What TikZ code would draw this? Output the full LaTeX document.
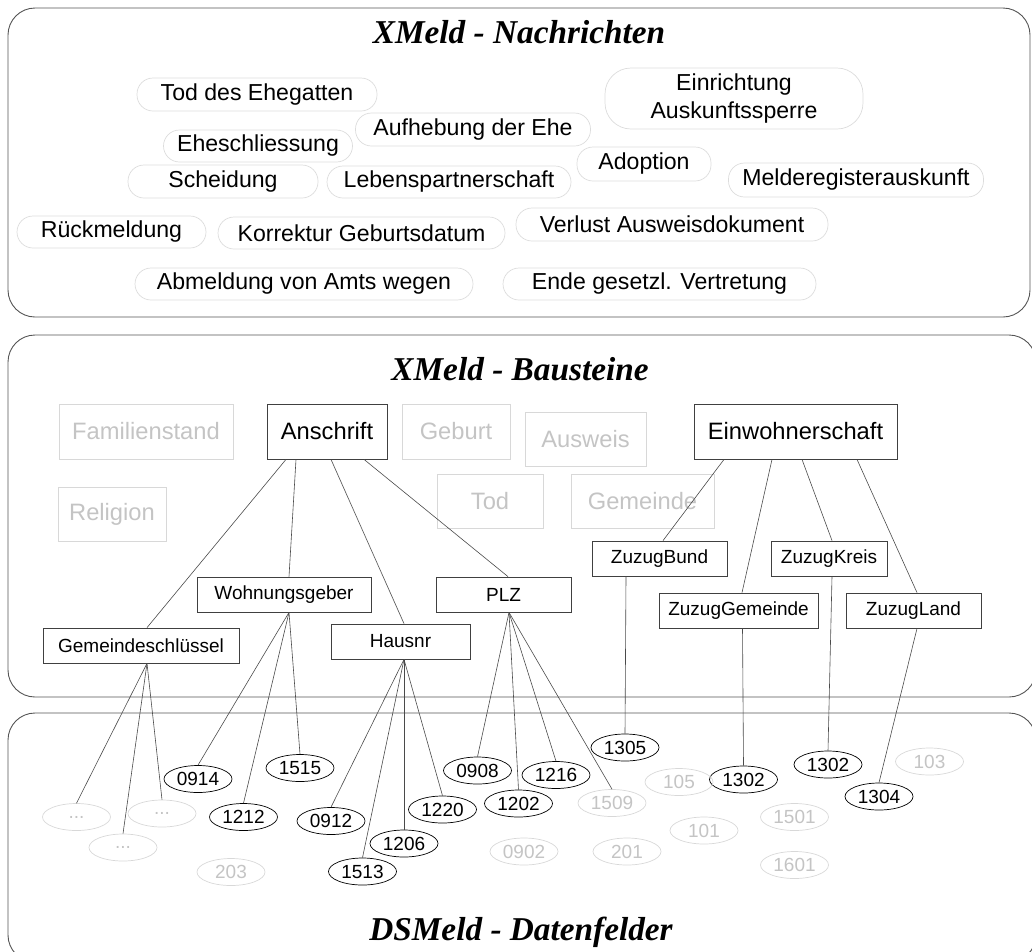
\documentclass[tikz,border=0pt]{standalone}
\usepackage{fontspec}
\setmainfont{Liberation Sans}
\newfontfamily\titlefont{Liberation Serif}
\usetikzlibrary{shapes.geometric}

\definecolor{panelc}{HTML}{555555}
\definecolor{linec}{HTML}{4A4A4A}
\definecolor{pillc}{HTML}{DCDCDC}
\definecolor{grayb}{HTML}{D8D8D8}
\definecolor{grayt}{HTML}{C4C4C4}
\definecolor{boxc}{HTML}{404040}

\newcommand\fontPill{\fontsize{23.1pt}{27.5pt}\selectfont}
\newcommand\fontBig{\fontsize{23.7pt}{28pt}\selectfont}
\newcommand\fontSmall{\fontsize{19pt}{22pt}\selectfont}
\newcommand\fontTitle{\titlefont\bfseries\itshape\fontsize{33.3pt}{40pt}\selectfont}

\tikzset{
 panel/.style={draw=panelc, line width=0.9pt, rounded corners=27pt},
 pill/.style={draw=pillc, line width=0.7pt, rounded corners=16pt, inner sep=0pt, font=\fontPill, align=center},
 bigbox/.style={draw=boxc, line width=0.8pt, inner sep=0pt, font=\fontBig, minimum height=55pt},
 graybox/.style={draw=grayb, line width=0.8pt, inner sep=0pt, font=\fontBig, text=grayt, minimum height=54pt},
 subbox/.style={draw=boxc, line width=0.8pt, inner sep=0pt, font=\fontSmall, minimum height=35pt},
 field/.style={ellipse, draw=black, line width=0.7pt, inner sep=0pt, font=\fontSmall, minimum width=68pt, minimum height=27pt},
 grayfield/.style={field, draw=grayb, text=grayt},
 link/.style={draw=linec, line width=0.6pt},
 ttl/.style={font=\fontTitle, inner sep=0pt, anchor=base}
}

\begin{document}
\begin{tikzpicture}[x=1pt,y=-1pt]
\useasboundingbox (0,0) rectangle (1032,951);

% panels
\draw[panel] (8,8) rectangle (1030,317);
\draw[panel] (8,335) rectangle (1036,697);
\draw[panel] (8,713) rectangle (1036,962);

% titles
\node[ttl] (t1) at (519,43) {XMeld - Nachrichten};
\node[ttl] (t2) at (520,380) {XMeld - Bausteine};
\node[ttl] (t3) at (521,940) {DSMeld - Datenfelder};

% messages
\node[pill, minimum width=240pt, minimum height=33pt] (tod) at (257,94.5) {Tod des Ehegatten};
\node[pill, minimum width=189pt, minimum height=32pt] (ehe) at (258,146) {Eheschliessung};
\node[pill, minimum width=235pt, minimum height=33pt] (aufh) at (473,129.5) {Aufhebung der Ehe};
\node[pill, minimum width=190pt, minimum height=33pt] (scheid) at (223,181.5) {Scheidung};
\node[pill, minimum width=244pt, minimum height=32pt] (leben) at (449,182) {Lebenspartnerschaft};
\node[pill, minimum width=134pt, minimum height=34pt] (adopt) at (644,164) {Adoption};
\node[pill, minimum width=258pt, minimum height=61pt, rounded corners=26pt] (einr) at (734,98.5) {Einrichtung\\Auskunftssperre};
\node[pill, minimum width=255pt, minimum height=34pt] (melde) at (856,180) {Melderegisterauskunft};
\node[pill, minimum width=189pt, minimum height=32pt] (rueck) at (111.5,232) {Rückmeldung};
\node[pill, minimum width=287pt, minimum height=32pt] (korr) at (361.5,233) {Korrektur Geburtsdatum};
\node[pill, minimum width=312pt, minimum height=33pt] (verl) at (672,224.5) {Verlust Ausweisdokument};
\node[pill, minimum width=338pt, minimum height=32pt] (abm) at (304,284) {Abmeldung von Amts wegen};
\node[pill, minimum width=313pt, minimum height=32pt] (ende) at (659.5,284) {Ende gesetzl. Vertretung};

% building blocks
\node[graybox, minimum width=174pt, minimum height=55pt] (fam) at (146,431.5) {Familienstand};
\node[bigbox, minimum width=120pt] (ans) at (327,431.5) {Anschrift};
\node[graybox, minimum width=108pt, minimum height=55pt] (geb) at (456,431.5) {Geburt};
\node[graybox, minimum width=121pt] (ausw) at (585.5,439) {Ausweis};
\node[graybox, minimum width=108pt] (rel) at (112,514) {Religion};
\node[graybox, minimum width=106pt] (todb) at (490,501) {Tod};
\node[graybox, minimum width=143pt] (gem) at (642.5,501) {Gemeinde};
\node[bigbox, minimum width=203pt] (einw) at (795.5,431.5) {Einwohnerschaft};
\node[subbox, minimum width=174pt] (wohn) at (284,594.5) {Wohnungsgeber};
\node[subbox, minimum width=196pt] (gs) at (141,645.5) {Gemeindeschlüssel};
\node[subbox, minimum width=139pt] (haus) at (400.5,641.5) {Hausnr};
\node[subbox, minimum width=135pt] (plz) at (503.5,594.5) {PLZ};
\node[subbox, minimum width=135pt] (zb) at (659.5,558.5) {ZuzugBund};
\node[subbox, minimum width=116pt] (zk) at (829,558.5) {ZuzugKreis};
\node[subbox, minimum width=159pt] (zg) at (738.5,610.5) {ZuzugGemeinde};
\node[subbox, minimum width=135pt] (zl) at (913.5,610.5) {ZuzugLand};

% data fields
\node[field] (f0914) at (198,779) {0914};
\node[field] (f1212) at (243.5,817) {1212};
\node[field] (f1515) at (300,768) {1515};
\node[field] (f0912) at (331,821) {0912};
\node[field] (f1513) at (362.5,871.5) {1513};
\node[field] (f1206) at (404,843.5) {1206};
\node[field] (f1220) at (442.5,809.5) {1220};
\node[field] (f0908) at (477.5,770.5) {0908};
\node[field] (f1202) at (518.5,803.5) {1202};
\node[field] (f1216) at (556,775) {1216};
\node[field] (f1305) at (625,747.5) {1305};
\node[field] (f1302a) at (743.5,779.5) {1302};
\node[field] (f1302b) at (828,764.5) {1302};
\node[field] (f1304) at (879,796.5) {1304};

\node[grayfield] (d1) at (76.5,817) {...};
\node[grayfield] (d2) at (123,847.5) {...};
\node[grayfield] (d3) at (162,813.5) {...};
\node[grayfield] (g203) at (231,872) {203};
\node[grayfield] (g1509) at (612,803) {1509};
\node[grayfield] (g0902) at (524,851.5) {0902};
\node[grayfield] (g201) at (627,851.5) {201};
\node[grayfield] (g105) at (679,782) {105};
\node[grayfield] (g101) at (704,830.5) {101};
\node[grayfield] (g1501) at (794.5,817) {1501};
\node[grayfield] (g1601) at (794.5,865) {1601};
\node[grayfield] (g103) at (929.5,761.5) {103};

% connectors
\draw[link] ([xshift=-41pt]ans.south) -- ([xshift=6pt]gs.north);
\draw[link] ([xshift=-31pt]ans.south) -- ([xshift=5pt]wohn.north);
\draw[link] ([xshift=4pt]ans.south) -- ([xshift=3.5pt]haus.north);
\draw[link] ([xshift=37pt]ans.south) -- ([xshift=4.5pt]plz.north);
\draw[link] ([xshift=-71.5pt]einw.south) -- ([xshift=3.5pt]zb.north);
\draw[link] ([xshift=-23.5pt]einw.south) -- ([xshift=3.5pt]zg.north);
\draw[link] ([xshift=6.5pt]einw.south) -- ([xshift=3pt]zk.north);
\draw[link] ([xshift=61.5pt]einw.south) -- ([xshift=3.5pt]zl.north);

\foreach \t in {d1,d2,d3} \draw[link] ([xshift=6pt]gs.south) -- (\t.north);
\foreach \t in {f0914,f1212,f1515} \draw[link] ([xshift=5pt]wohn.south) -- (\t.north);
\foreach \t in {f0912,f1513,f1206,f1220} \draw[link] ([xshift=3.5pt]haus.south) -- (\t.north);
\foreach \t in {f0908,f1202,f1216,g1509} \draw[link] ([xshift=5.5pt]plz.south) -- (\t.north);
\draw[link] ([xshift=-33.5pt]zb.south) -- (f1305.north);
\draw[link] ([xshift=4pt]zg.south) -- (f1302a.north);
\draw[link] ([xshift=3pt]zk.south) -- (f1302b.north);
\draw[link] ([xshift=3.5pt]zl.south) -- (f1304.north);
\end{tikzpicture}
\end{document}
